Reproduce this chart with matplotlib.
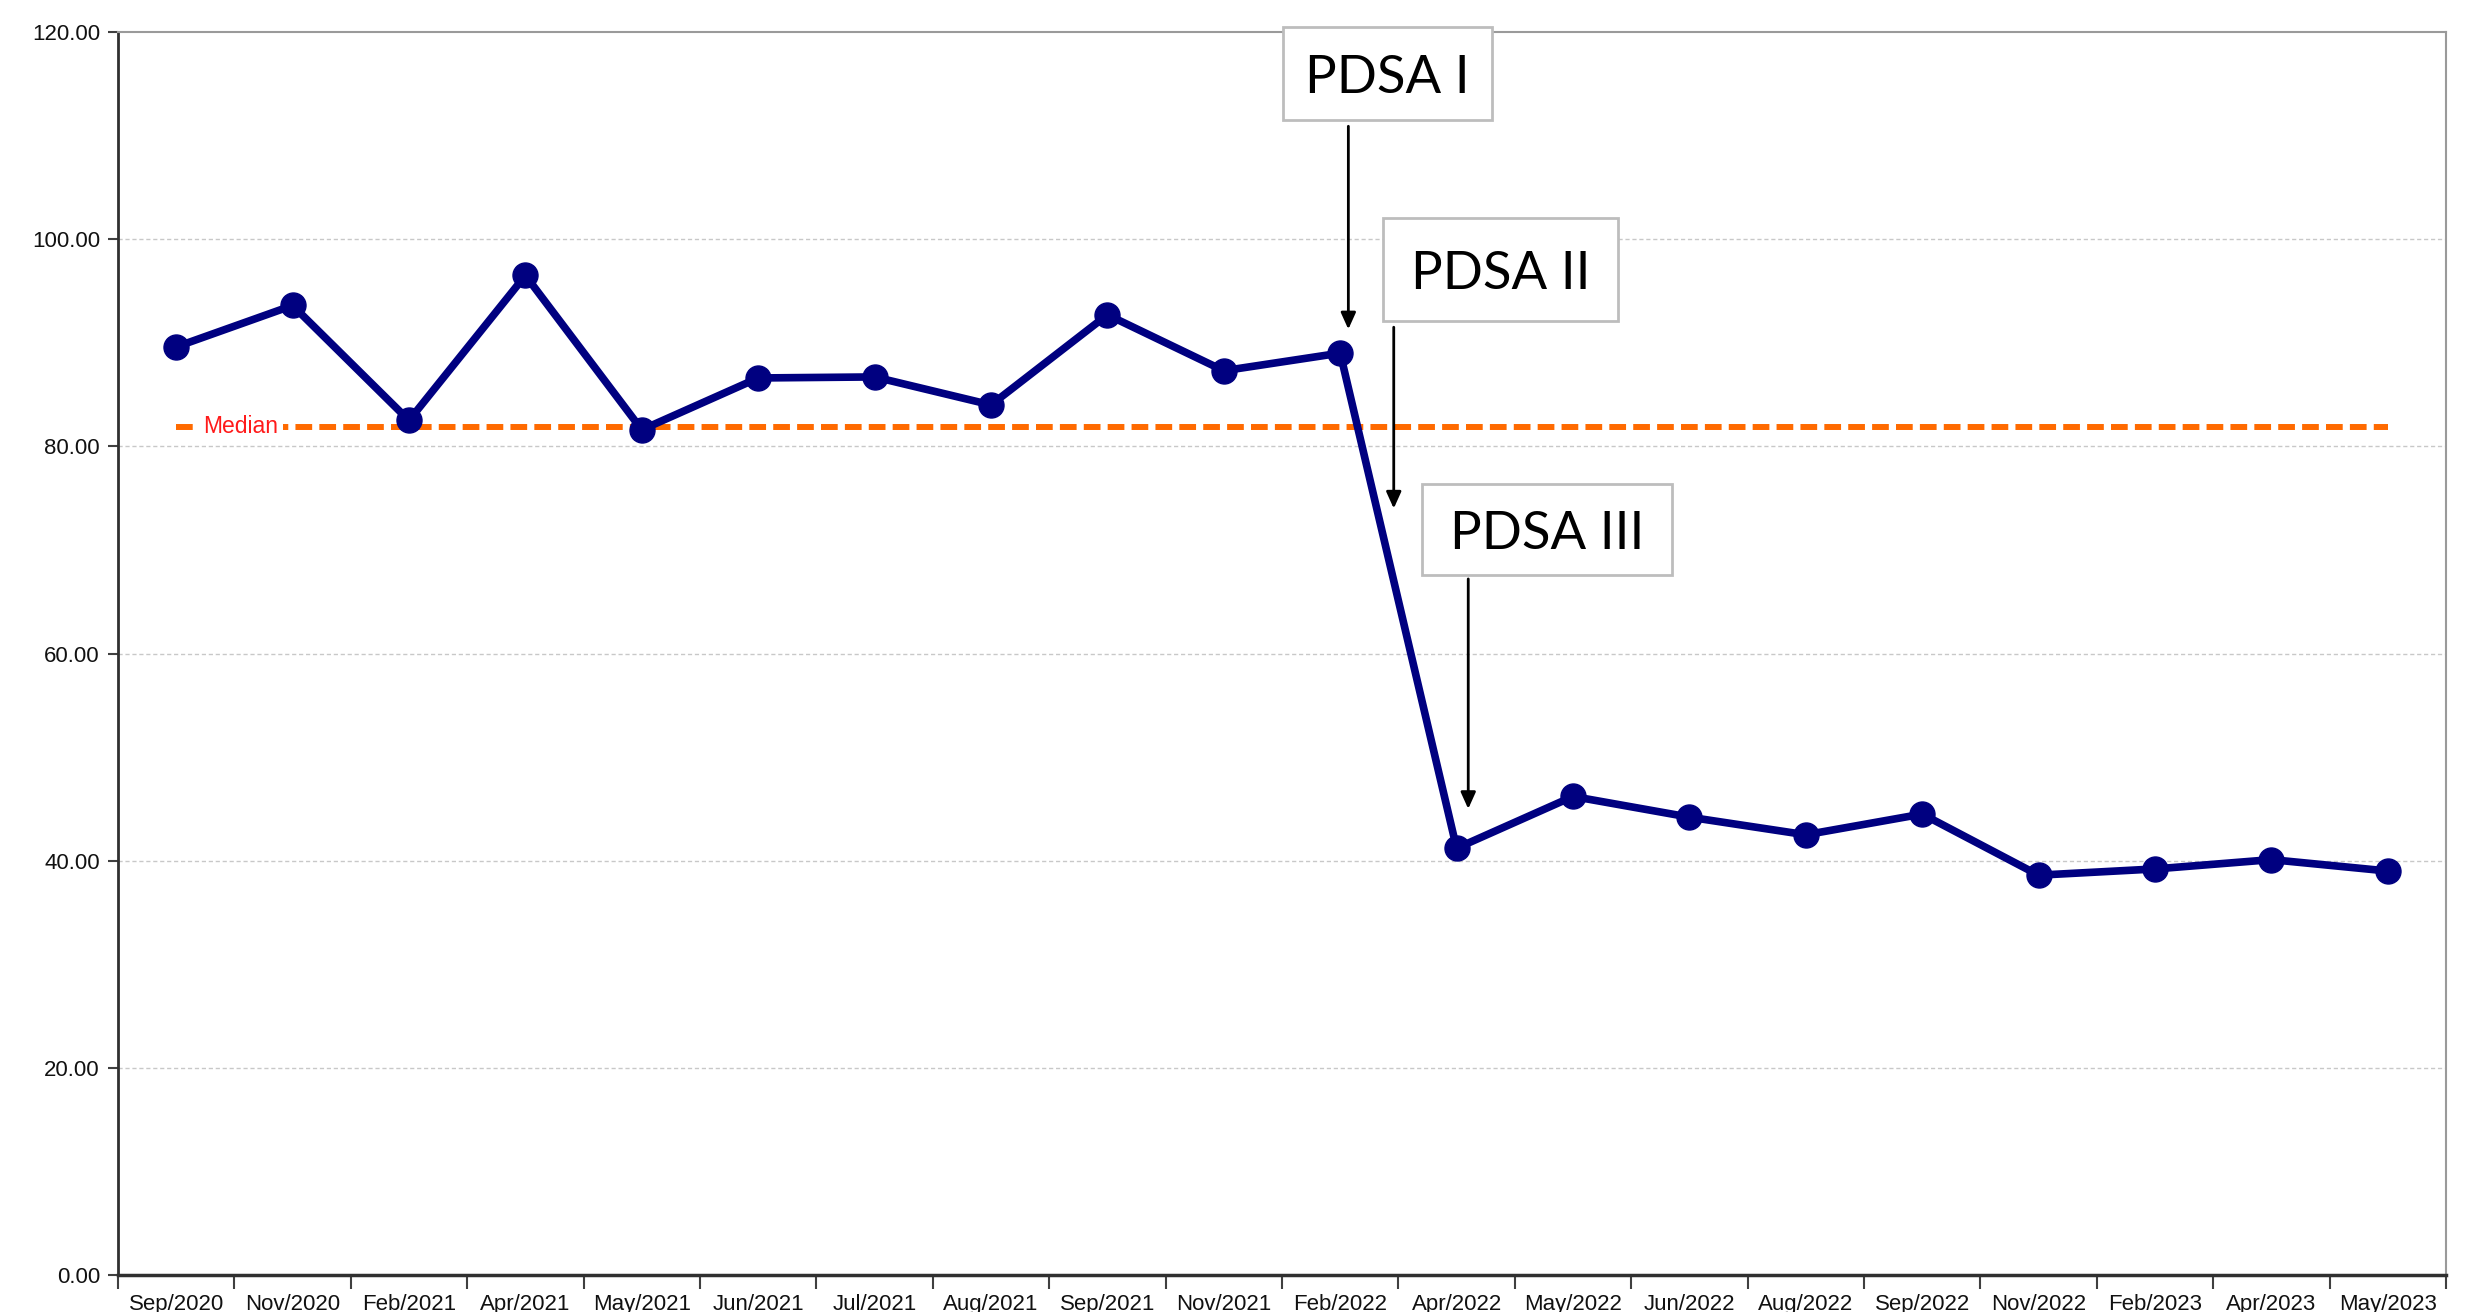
import matplotlib
matplotlib.use("Agg")
import matplotlib.pyplot as plt
from matplotlib.patches import Rectangle
from matplotlib.ticker import FormatStrFormatter

categories = ["Sep/2020", "Nov/2020", "Feb/2021", "Apr/2021", "May/2021", "Jun/2021",
              "Jul/2021", "Aug/2021", "Sep/2021", "Nov/2021", "Feb/2022", "Apr/2022",
              "May/2022", "Jun/2022", "Aug/2022", "Sep/2022", "Nov/2022", "Feb/2023",
              "Apr/2023", "May/2023"]
values = [89.6, 93.6, 82.5, 96.5, 81.6, 86.6, 86.7, 84.0, 92.7, 87.3, 89.0,
          41.2, 46.2, 44.2, 42.5, 44.5, 38.6, 39.2, 40.1, 39.0]
median_value = 81.9
yticks = [0, 20, 40, 60, 80, 100, 120]

pdsa_labels = ["PDSA I", "PDSA II", "PDSA III"]

W, H = 2480, 1312
fig = plt.figure(figsize=(W / 100, H / 100), dpi=100)
ax = fig.add_axes([118 / W, (H - 1275) / H, (2446 - 118) / W, (1275 - 32) / H])

x = list(range(len(categories)))
n = len(categories)

# gridlines
for yv in yticks[1:-1]:
    ax.axhline(yv, color="#c8c8c8", lw=1.0, ls=(0, (3, 2)), zorder=0)

# median line
ax.plot([x[0], x[-1]], [median_value, median_value], color="#FF6A00", lw=4.3,
        ls=(0, (2.8, 1.2)), zorder=2)
ax.text(0.23, median_value, "Median", color="#FF1A1A", fontsize=16.5,
        family=["Liberation Sans", "DejaVu Sans"], va="center", ha="left",
        bbox=dict(facecolor="white", edgecolor="none", pad=4), zorder=3)

# data line
ax.plot(x, values, color="#000080", lw=5.5, marker="o", markersize=18,
        markerfacecolor="#000080", markeredgecolor="#000080", zorder=4)

ax.set_xlim(-0.5, n - 0.5)
ax.set_ylim(0, 120)
ax.set_yticks(yticks)
ax.yaxis.set_major_formatter(FormatStrFormatter("%.2f"))
ax.set_xticks(x)
ax.set_xticklabels(categories)
ax.set_xticks([i - 0.5 for i in range(n + 1)], minor=True)
ax.tick_params(axis="x", which="major", length=0, pad=14, labelsize=16,
               labelcolor="#111111")
ax.tick_params(axis="x", which="minor", length=10, width=1.5, direction="out",
               color="#404040")
ax.tick_params(axis="y", which="major", length=7, width=1.5, direction="out",
               labelsize=16, labelcolor="#111111", color="#404040", pad=6)
for lab in ax.get_xticklabels() + ax.get_yticklabels():
    lab.set_family(["Liberation Sans", "DejaVu Sans"])

ax.spines["left"].set_color("#303030")
ax.spines["left"].set_linewidth(2)
ax.spines["bottom"].set_color("#303030")
ax.spines["bottom"].set_linewidth(2.5)
ax.spines["top"].set_color("#9a9a9a")
ax.spines["top"].set_linewidth(1.5)
ax.spines["right"].set_color("#9a9a9a")
ax.spines["right"].set_linewidth(1.5)

# PDSA annotation boxes (data coords) and arrows
boxes = [(9.51, 111.5, 11.30, 120.5), (10.37, 92.1, 12.39, 102.0), (10.70, 67.6, 12.85, 76.4)]
arrows = [(10.07, 110.9, 91.3), (10.46, 91.5, 74.0), (11.10, 67.2, 45.0)]
for lab, (x0, y0, x1, y1), (ax_x, ys, ye) in zip(pdsa_labels, boxes, arrows):
    rect = Rectangle((x0, y0), x1 - x0, y1 - y0, facecolor="white", edgecolor="#bdbdbd",
                     lw=2, zorder=6, clip_on=False)
    ax.add_patch(rect)
    ax.text((x0 + x1) / 2, (y0 + y1) / 2 - 0.5, lab, fontsize=38, color="black",
            family=["Lato", "DejaVu Sans"], ha="center", va="center", zorder=7,
            clip_on=False)
    ax.annotate("", xy=(ax_x, ye), xytext=(ax_x, ys),
                arrowprops=dict(arrowstyle="-|>,head_length=1.0,head_width=0.45",
                                color="black", lw=2, shrinkA=0, shrinkB=0),
                zorder=7)

fig.savefig("out.png", dpi=100, facecolor="white")
